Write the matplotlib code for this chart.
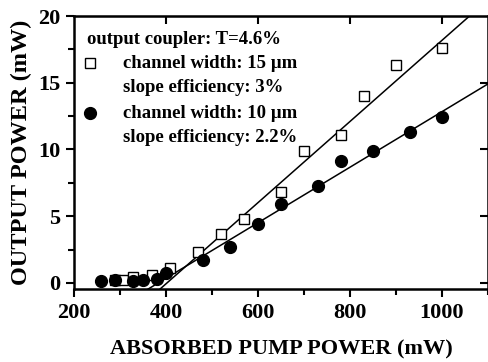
import matplotlib
matplotlib.use("Agg")
import matplotlib.pyplot as plt
import numpy as np
from matplotlib.ticker import MultipleLocator

plt.rcParams['font.family'] = ['Liberation Serif', 'DejaVu Serif']
plt.rcParams['font.weight'] = 'bold'

# data: channel width 15 um (open squares)
sq_x = [290, 307, 329, 369, 408, 470, 520, 570, 650, 700, 780, 830, 900, 1000]
sq_y = [0.2, 0.22, 0.43, 0.6, 1.1, 2.3, 3.7, 4.8, 6.85, 9.9, 11.1, 14.0, 16.3, 17.6]
# channel width 10 um (filled circles)
ci_x = [258, 290, 329, 349, 381, 400, 480, 540, 600, 650, 730, 780, 850, 930, 1000]
ci_y = [0.15, 0.2, 0.17, 0.22, 0.28, 0.77, 1.72, 2.72, 4.42, 5.92, 7.27, 9.15, 9.9, 11.3, 12.4]
# linear fits
fit_slopes = [0.0304, 0.0208]
fit_thresholds = [402, 383]

fig = plt.figure(figsize=(4.89, 3.62), dpi=100)
ax = fig.add_axes([74/489, (362-289)/362, (488-74)/489, (289-16)/362])

xl = np.array([300, 1150])
for s, t in zip(fit_slopes, fit_thresholds):
    ax.plot(xl, s*(xl - t), color='black', lw=1.1)

ax.plot(sq_x, sq_y, 's', ms=7, mfc='white', mec='black', mew=1.0, zorder=3)
ax.plot(ci_x, ci_y, 'o', ms=8.5, mfc='black', mec='black', zorder=3)

ax.set_xlim(200, 1100)
ax.set_ylim(-0.45, 20)
ax.xaxis.set_major_locator(MultipleLocator(200))
ax.xaxis.set_minor_locator(MultipleLocator(100))
ax.yaxis.set_major_locator(MultipleLocator(5))
ax.yaxis.set_minor_locator(MultipleLocator(2.5))

for sp in ax.spines.values():
    sp.set_linewidth(1.8)

ax.tick_params(axis='both', which='major', direction='out', length=6, width=1.5,
               labelsize=16, pad=4)
ax.tick_params(axis='both', which='minor', direction='out', length=4, width=1.5)

# top/right inward major ticks
axt = ax.secondary_xaxis('top')
axt.set_xticks([400, 600, 800, 1000])
axt.tick_params(direction='in', length=6, width=1.5, labeltop=False)
axt.set_xticklabels([])
axr = ax.secondary_yaxis('right')
axr.set_yticks([0, 5, 10, 15])
axr.tick_params(direction='in', length=6, width=1.5)
axr.set_yticklabels([])

for lab in ax.get_xticklabels() + ax.get_yticklabels():
    lab.set_fontweight('bold')

ax.set_xlabel('ABSORBED PUMP POWER (mW)', fontsize=16, fontweight='bold', labelpad=12)
ax.set_ylabel('OUTPUT POWER (mW)', fontsize=17.5, fontweight='bold', labelpad=4)

tfs = 13.5
fig.text(87/489, 1-40/362, 'output coupler: T=4.6%', fontsize=tfs, fontweight='bold', va='center')
fig.text(123/489, 1-63/362, 'channel width: 15 µm', fontsize=tfs, fontweight='bold', va='center')
fig.text(123/489, 1-88/362, 'slope efficiency: 3%', fontsize=tfs, fontweight='bold', va='center')
fig.text(123/489, 1-113/362, 'channel width: 10 µm', fontsize=tfs, fontweight='bold', va='center')
fig.text(123/489, 1-138/362, 'slope efficiency: 2.2%', fontsize=tfs, fontweight='bold', va='center')
ax.plot([90/489], [1-63/362], 's', ms=7, mfc='white', mec='black', mew=1.0,
        transform=fig.transFigure, clip_on=False)
ax.plot([90/489], [1-113/362], 'o', ms=8.5, mfc='black', mec='black',
        transform=fig.transFigure, clip_on=False)

fig.savefig('out.png', dpi=100)
